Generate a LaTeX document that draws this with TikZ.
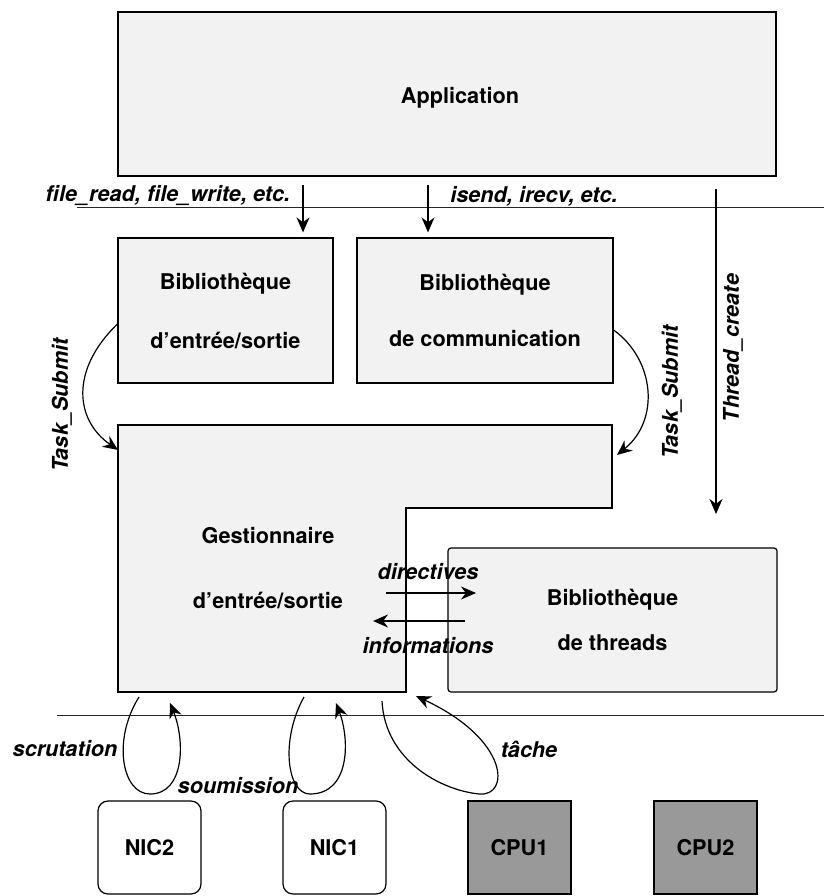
\documentclass[tikz,border=0pt]{standalone}
\usepackage{fontspec}
\setmainfont{TeX Gyre Heros}
\usetikzlibrary{arrows.meta}
\definecolor{boxgray}{HTML}{F2F2F2}
\definecolor{cpugray}{HTML}{999999}

\begin{document}
\begin{tikzpicture}[
x=1pt, y=-1pt,
box/.style={rectangle, draw, fill=boxgray, line width=1.2pt, inner sep=0pt, align=center, font=\bfseries\fontsize{21.7}{26}\selectfont},
nic/.style={box, fill=white, rounded corners=10pt, minimum width=103pt, minimum height=93pt},
cpu/.style={box, fill=cpugray, minimum width=103pt, minimum height=93pt},
lbl/.style={font=\bfseries\itshape\fontsize{21.7}{26}\selectfont, inner sep=0pt},
arr/.style={line width=1.2pt, -{Stealth[length=15pt, width=13pt]}},
sep/.style={line width=1pt, black!85},
]
\useasboundingbox (0,0) rectangle (824,896);

% Application on top
\node[box, minimum width=658pt, minimum height=164pt] (app) at (447,94) {};
\node[font=\bfseries\fontsize{21.7}{26}\selectfont] (apptext) at (460,98) {Application};
\coordinate (sepA) at (77,207);
\coordinate (sepAend) at (824,207);
\draw[sep] (sepA) -- (sepAend);

% calls into the libraries
\node[lbl] (fcalls) at (168,196) {file\_read, file\_write, etc.};
\node[lbl] (ccalls) at (534,196) {isend, irecv, etc.};
\coordinate (fio) at (303,185);
\coordinate (fcom) at (428,185);
\coordinate (fthr) at (716,189);
\coordinate (tthr) at (716,514);

% the two libraries
\node[box, minimum width=215pt, minimum height=145pt] (bio) at (225.5,310.5) {Biblioth\`eque\\[33pt]d’entr\'ee/sortie};
\node[box, minimum width=256pt, minimum height=145pt] (bcom) at (485,310.5) {Biblioth\`eque\\[30pt]de communication};
\draw[arr, shorten >=5pt] (fio) -- (fio |- bio.north);
\draw[arr, shorten >=5pt] (fcom) -- (fcom |- bcom.north);

% Thread_create
\draw[arr] (fthr) -- (tthr);
\node[lbl, rotate=90] (tcreate) at (733,348) {Thread\_create};

% I/O manager (L shape)
\coordinate (gTL) at (118,425);
\coordinate (gR) at (612,508);
\coordinate (gB) at (406,692);
\draw[line width=1.2pt, fill=boxgray] (gTL) -| (gR) -| (gB) -| cycle;
\node[font=\bfseries\fontsize{21.7}{26}\selectfont, align=center] (gest) at (268,568) {Gestionnaire\\[39pt]d’entr\'ee/sortie};

% Task_Submit
\coordinate (gin) at (118,450);
\coordinate (gin2) at (617,455);
\draw[arr] (bio.west |- 0,324) .. controls (70,370) and (75,420) .. (gin);
\draw[arr] (bcom.east |- 0,330) .. controls (655,360) and (660,420) .. (gin2);
\node[lbl, rotate=90] (tsl) at (62,405) {Task\_Submit};
\node[lbl, rotate=90] (tsr) at (672,392) {Task\_Submit};

% thread library
\node[box, rounded corners=3pt, minimum width=329pt, minimum height=144pt] (bthr) at (612.5,620) {Biblioth\`eque\\[19pt]de threads};
\coordinate (dirA) at (386,593);
\coordinate (dirB) at (476,593);
\coordinate (infA) at (465,621);
\coordinate (infB) at (373,621);
\draw[arr] (dirA) -- (dirB);
\draw[arr] (infA) -- (infB);
\node[lbl] (dir) at (428,572) {directives};
\node[lbl] (inf) at (428,646) {informations};

% hardware line
\coordinate (sepB) at (57,715);
\coordinate (sepBend) at (824,715);
\draw[sep] (sepB) -- (sepBend);

% hardware
\node[nic] (nic2) at (149.5,847.5) {NIC2};
\node[nic] (nic1) at (334.5,847.5) {NIC1};
\node[cpu] (cpu1) at (519.5,847.5) {CPU1};
\node[cpu] (cpu2) at (705.5,847.5) {CPU2};

% loops under the manager
\coordinate (scrA) at (139,697);
\coordinate (scrB) at (170,703);
\coordinate (souA) at (304,697);
\coordinate (souB) at (336,703);
\coordinate (tacA) at (382,701);
\coordinate (tacB) at (416,696);
\draw[arr] (scrA) .. controls (112,740) and (122,794) .. (150,794) .. controls (185,794) and (185,740) .. (scrB);
\draw[arr] (souA) .. controls (280,740) and (287,794) .. (310,794) .. controls (350,794) and (350,740) .. (souB);
\draw[arr] (tacA) .. controls (385,760) and (440,790) .. (479,794) .. controls (510,797) and (510,740) .. (tacB);
\node[lbl] (scr) at (65,749) {scrutation};
\node[lbl] (sou) at (238,786) {soumission};
\node[lbl] (tac) at (529,749) {t\^ache};

\end{tikzpicture}
\end{document}
